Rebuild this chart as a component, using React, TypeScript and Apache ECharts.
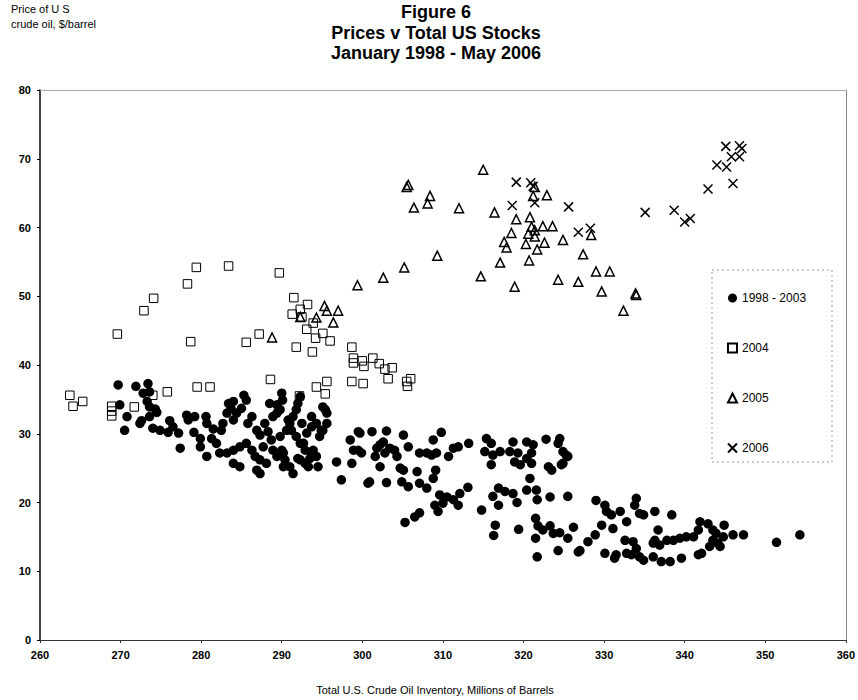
import React, { useEffect, useRef } from "react";
import * as echarts from "echarts";

const legendNames = ["1998 - 2003", "2004", "2005", "2006"];

const stocks9803: [number, number][] = [
  [269.7,37.1],[271.9,36.9],[273.4,37.3],[273.6,36.1],[272.8,35.9],[269.9,34.2],[273.3,34.7],[273.6,33.9],[274.3,33.6],[274.5,33.1],
  [270.8,32.5],[272.6,31.9],[273.6,32.5],[270.5,30.5],[272.4,31.5],[274.0,30.8],[274.9,30.5],[276.1,31.9],[276.5,31.0],[275.9,30.2],
  [277.2,30.1],[278.2,32.7],[278.4,32.0],[279.2,32.5],[279.1,30.2],[279.9,29.3],[280.6,32.5],[280.7,31.5],[281.5,30.7],[281.3,29.3],
  [281.9,28.6],[282.5,30.5],[282.7,31.5],[283.2,33.0],[283.4,34.4],[284.0,34.7],[283.7,33.7],[284.0,32.0],[284.4,33.0],[285.3,35.6],
  [285.6,34.9],[285.0,33.7],[285.8,31.5],[286.3,32.5],[286.9,30.5],[287.3,29.8],[287.9,31.5],[288.3,30.3],[288.9,32.5],[289.4,33.0],
  [289.8,33.5],[290.0,35.9],[290.1,34.9],[289.4,34.2],[288.5,34.4],[285.6,28.6],[286.3,27.6],[286.7,26.7],[287.7,28.1],[287.3,26.2],
  [288.1,25.7],[288.9,27.6],[289.4,26.7],[288.7,29.1],[289.8,29.6],[290.6,30.5],[291.0,31.5],[291.4,32.5],[291.8,33.5],[290.0,27.6],
  [290.4,26.2],[291.0,25.2],[291.8,29.6],[292.3,28.6],[292.9,27.6],[293.1,30.1],[293.7,31.0],[292.0,34.4],[292.3,35.4],[293.9,27.6],
  [293.5,26.4],[292.9,25.7],[294.7,29.6],[295.1,30.5],[295.6,31.5],[295.6,33.0],[295.1,33.9],[294.5,25.2],[294.3,26.7],[296.8,25.9],
  [298.7,25.7],[298.5,29.1],[299.5,30.3],[298.9,27.6],[297.4,23.3],[283.2,27.2],[284.0,27.6],[284.8,28.1],[282.3,27.2],[279.9,28.1],
  [280.7,26.7],[277.4,27.9],[284.0,25.7],[284.8,25.2],[286.9,24.7],[287.3,24.2],[290.2,25.2],[291.4,24.2],[292.3,26.2],
  [290.8,32.0],[291.2,30.5],[292.5,31.5],[292.7,28.6],[293.7,32.5],[294.3,31.5],[294.9,30.5],[295.4,33.5],[290.2,27.2],[292.0,26.4],
  [293.3,25.2],[293.7,27.2],[299.7,30.1],[301.2,30.3],[303.0,30.4],[299.5,27.6],[299.9,27.2],[300.7,22.8],[300.9,23.0],[301.8,27.9],
  [302.2,28.4],[302.6,28.8],[302.8,27.2],[303.4,27.9],[304.0,27.6],[304.3,26.7],[301.6,26.7],[302.2,25.2],[303.0,22.9],[305.1,29.8],
  [305.7,28.1],[304.7,25.0],[305.1,24.7],[304.9,23.0],[305.7,22.3],[306.8,24.5],[307.1,27.2],[308.0,27.2],[308.6,26.9],[309.2,27.2],
  [308.8,29.1],[309.8,30.2],[307.1,22.8],[308.0,22.1],[308.8,23.5],[309.1,24.7],[310.7,26.7],[311.3,27.9],[311.9,28.1],[313.2,28.6],
  [309.6,21.1],[310.5,20.8],[311.3,20.4],[312.1,21.3],[311.9,19.6],[310.0,19.9],[309.0,19.6],[309.4,18.7],[313.1,22.2],[307.1,18.5],
  [306.5,17.9],[305.3,17.1],[314.8,18.9],[315.4,29.3],[316.0,28.6],[315.2,27.4],[316.2,26.9],[317.1,27.4],[316.0,25.5],[318.7,28.8],
  [318.3,27.4],[319.3,27.2],[320.4,28.8],[321.2,28.4],[319.6,25.5],[318.9,25.9],[320.4,26.4],[321.0,27.2],[321.0,25.7],[320.8,23.5],
  [322.8,29.2],[324.5,29.3],[324.3,28.6],[324.9,27.4],[325.5,26.7],[324.9,25.7],[323.1,25.2],[323.5,24.7],[316.9,22.1],[316.2,20.9],
  [317.7,21.6],[318.7,21.3],[316.9,19.6],[319.2,20.0],[320.4,21.8],[321.6,21.8],[321.7,20.4],[323.3,20.8],[325.5,20.9],[316.5,16.7],
  [316.3,15.2],[319.4,16.1],[321.5,17.7],[321.8,16.6],[322.4,16.0],[323.3,16.6],[323.7,15.5],[324.5,15.6],[326.2,16.4],[325.5,14.8],
  [321.5,14.8],[324.3,13.0],[321.7,12.1],[326.8,12.8],[324.7,25.5],[325.3,26.9],[327.0,13.0],[329.0,20.3],[330.1,19.6],[330.3,18.7],
  [330.9,18.2],[332.0,18.7],[332.8,17.2],[334.0,20.6],[333.8,19.6],[334.4,18.4],[334.9,18.2],[336.3,18.7],[338.4,18.2],[329.7,16.7],
  [331.1,16.2],[328.9,15.3],[328.0,14.3],[330.1,12.6],[331.5,12.4],[331.3,11.9],[332.8,12.6],[333.4,12.4],[334.0,13.3],[332.6,14.5],
  [333.6,14.3],[334.4,12.1],[334.9,11.6],[336.1,12.1],[337.1,11.4],[338.2,11.4],[339.6,11.9],[341.7,12.4],[336.3,14.5],[336.7,16.0],
  [336.1,14.1],[336.9,13.8],[337.8,14.5],[338.6,14.5],[339.4,14.8],[340.2,15.0],[341.1,15.0],[341.7,16.0],[341.9,17.2],[342.9,16.9],
  [343.5,16.0],[343.9,15.5],[343.5,14.5],[344.1,14.1],[343.1,13.6],[344.9,16.7],[344.8,15.0],[344.4,13.6],[346.0,15.3],[347.3,15.3],
  [342.1,12.6],[351.4,14.2],[354.3,15.3]
];

const stocks2004: [number, number][] = [
  [279.4,54.2],[283.4,54.4],[289.7,53.4],[278.3,51.8],[274.1,49.7],[272.9,47.9],[269.6,44.5],[278.7,43.4],[285.6,43.3],[287.2,44.5],
  [291.5,49.8],[293.2,48.8],[292.3,48.1],[291.3,47.4],[292.5,47.0],[293.9,46.1],[293.1,45.2],[295.1,44.6],[294.2,43.9],[296.0,43.5],
  [291.8,42.6],[293.8,41.9],[298.7,42.6],[298.9,41.0],[298.9,40.3],[263.7,35.6],[264.1,34.0],[265.3,34.7],[268.9,34.0],[268.9,33.3],
  [268.9,32.6],[271.7,33.9],[274.0,35.6],[275.8,36.1],[279.5,36.8],[281.1,36.8],[288.6,37.9],[294.3,36.8],[295.6,37.6],[295.4,35.8],
  [292.2,35.5],[298.7,37.6],[300.0,40.6],[300.2,39.8],[300.1,37.3],[301.3,41.0],[302.1,40.2],[302.8,39.4],[303.2,38.0],[303.7,39.6],
  [305.5,37.6],[305.6,36.9],[306.0,38.0]
];

const stocks2005: [number, number][] = [
  [315.0,68.4],[305.5,65.9],[305.7,66.2],[308.4,64.6],[308.1,63.5],[306.4,62.9],[312.0,62.8],[316.4,62.2],[319.1,61.2],[320.8,61.5],
  [321.2,64.6],[322.9,64.7],[321.4,65.9],[318.5,59.2],[320.6,59.1],[321.0,60.1],[321.4,59.6],[322.4,60.2],[323.6,60.2],[321.4,58.7],
  [317.6,57.9],[317.9,57.1],[320.3,57.6],[322.6,57.8],[321.7,56.8],[324.9,58.2],[317.1,54.9],[320.7,55.2],[314.7,52.9],[318.9,51.4],
  [324.3,52.4],[326.8,52.1],[309.3,55.9],[305.2,54.2],[302.6,52.7],[299.4,51.6],[295.3,48.6],[297.0,47.9],[295.6,47.9],[294.3,46.9],
  [296.4,46.2],[292.3,47.0],[288.8,44.0],[328.4,58.9],[327.4,56.1],[329.0,53.6],[330.7,53.6],[329.7,50.7],[334.0,50.2],[333.9,50.4],
  [332.4,47.9]
];

const stocks2006: [number, number][] = [
  [319.1,66.6],[320.9,66.5],[321.2,66.0],[318.6,63.2],[321.4,63.6],[325.6,63.0],[326.8,59.3],[328.3,59.9],[335.1,62.2],[338.7,62.5],
  [340.0,60.8],[340.7,61.3],[342.9,65.6],[344.0,69.1],[345.2,68.8],[346.0,66.4],[345.8,70.3],[346.8,70.3],[345.1,71.8],[346.8,71.9],
  [347.1,71.5]
];

const xMin = 260, xMax = 360, xStep = 10;
const yMin = 0, yMax = 80, yStep = 10;

export default function App() {
  const ref = useRef<HTMLDivElement>(null);
  useEffect(() => {
    document.body.style.margin = "0";
    const chart = echarts.init(ref.current!, null, { renderer: "svg" });
    const font = "'Liberation Sans', Arial, sans-serif";
    const hollow = { color: "rgba(0,0,0,0)", borderColor: "#000", opacity: 1 };
    chart.setOption({
      animation: false,
      backgroundColor: "#fff",
      title: [
        {
          text: "Figure 6\nPrices v Total US Stocks\nJanuary 1998 - May 2006",
          left: 431,
          top: -3,
          textAlign: "center",
          textStyle: { fontFamily: font, fontSize: 18, fontWeight: "bold", lineHeight: 20.5, color: "#000" },
        },
        {
          text: "Price of U S\ncrude oil, $/barrel",
          left: 6,
          top: -3,
          textStyle: { fontFamily: font, fontSize: 11, fontWeight: "normal", lineHeight: 14.5, color: "#000" },
        },
        {
          text: "Total U.S. Crude Oil Inventory, Millions of Barrels",
          left: 430,
          top: 679,
          textAlign: "center",
          textStyle: { fontFamily: font, fontSize: 11, fontWeight: "normal", color: "#000" },
        },
      ],
      grid: { left: 40, right: 12, top: 90, bottom: 60 },
      legend: {
        orient: "vertical",
        left: 712,
        top: 270,
        padding: [22, 20, 22, 15],
        itemWidth: 9,
        itemHeight: 9,
        itemGap: 38,
        data: legendNames,
        textStyle: { fontFamily: font, fontSize: 12, color: "#000" },
      },
      graphic: [
        {
          type: "rect",
          shape: { x: 712, y: 270, width: 120, height: 192 },
          style: { fill: "none", stroke: "#999", lineWidth: 1, lineDash: [2, 3] },
          silent: true,
        },
      ],
      xAxis: [
        {
          type: "value",
          min: xMin,
          max: xMax,
          interval: xStep,
          axisLine: { show: true, onZero: false, lineStyle: { color: "#333", width: 1 } },
          axisTick: { show: true, length: 3, lineStyle: { color: "#333" } },
          axisLabel: { fontFamily: font, fontSize: 11, fontWeight: "bold", color: "#000", margin: 9 },
          splitLine: { show: false },
        },
        {
          type: "value",
          position: "top",
          min: xMin,
          max: xMax,
          interval: xStep,
          axisLine: { show: true, onZero: false, lineStyle: { color: "#999", type: "dotted" } },
          axisTick: { show: false },
          axisLabel: { show: false },
          splitLine: { show: false },
        },
      ],
      yAxis: [
        {
          type: "value",
          min: yMin,
          max: yMax,
          interval: yStep,
          axisLine: { show: true, onZero: false, lineStyle: { color: "#000", width: 1.5 } },
          axisTick: { show: true, length: 3, lineStyle: { color: "#000" } },
          axisLabel: { fontFamily: font, fontSize: 11, fontWeight: "bold", color: "#000", margin: 9 },
          splitLine: { show: false },
        },
        {
          type: "value",
          position: "right",
          min: yMin,
          max: yMax,
          interval: yStep,
          axisLine: { show: true, onZero: false, lineStyle: { color: "#888" } },
          axisTick: { show: false },
          axisLabel: { show: false },
          splitLine: { show: false },
        },
      ],
      series: [
        {
          name: legendNames[0],
          type: "scatter",
          data: stocks9803,
          symbol: "circle",
          symbolSize: 9.5,
          itemStyle: { color: "#000", opacity: 1 },
        },
        {
          name: legendNames[1],
          type: "scatter",
          data: stocks2004,
          symbol: "rect",
          symbolSize: 8.5,
          itemStyle: { ...hollow, borderWidth: 1 },
        },
        {
          name: legendNames[2],
          type: "scatter",
          data: stocks2005,
          symbol: "triangle",
          symbolSize: 9,
          itemStyle: { ...hollow, borderWidth: 1.5 },
        },
        {
          name: legendNames[3],
          type: "scatter",
          data: stocks2006,
          symbol: "path://M0,0L10,10M10,0L0,10",
          symbolSize: 9,
          itemStyle: { ...hollow, borderWidth: 1.5 },
        },
      ],
    });
    return () => chart.dispose();
  }, []);
  return <div ref={ref} style={{ width: 858, height: 700 }} />;
}
